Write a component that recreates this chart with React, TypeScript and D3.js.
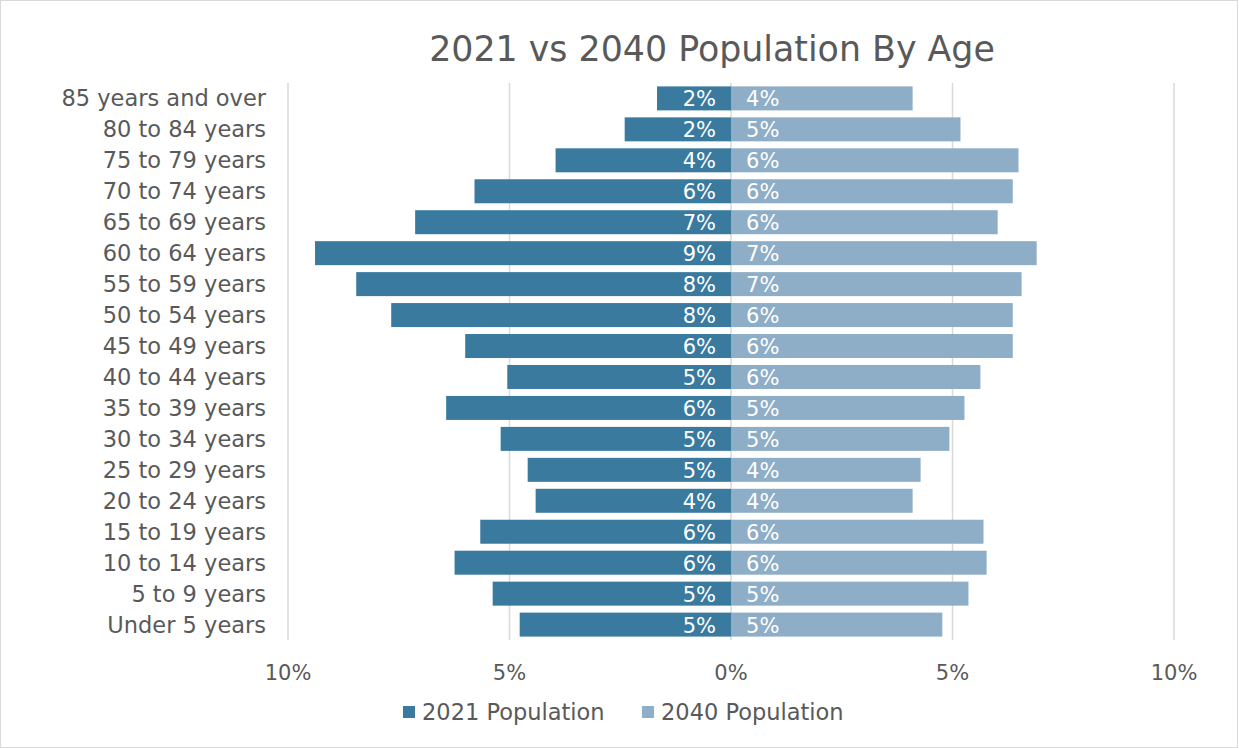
import React from "react";
import * as d3 from "d3";

const categories = [
  "85 years and over", "80 to 84 years", "75 to 79 years", "70 to 74 years",
  "65 to 69 years", "60 to 64 years", "55 to 59 years", "50 to 54 years",
  "45 to 49 years", "40 to 44 years", "35 to 39 years", "30 to 34 years",
  "25 to 29 years", "20 to 24 years", "15 to 19 years", "10 to 14 years",
  "5 to 9 years", "Under 5 years",
];
const pop2021 = [1.67, 2.4, 3.96, 5.79, 7.13, 9.39, 8.46, 7.67, 6.0, 5.05, 6.43, 5.2, 4.59, 4.41, 5.66, 6.24, 5.38, 4.77];
const pop2040 = [4.1, 5.18, 6.49, 6.36, 6.02, 6.9, 6.56, 6.36, 6.36, 5.63, 5.27, 4.93, 4.28, 4.1, 5.7, 5.77, 5.36, 4.77];
const ticks = [-10, -5, 0, 5, 10];
const seriesNames = ["2021 Population", "2040 Population"];

const W = 1239, H = 748;
const FONT = "'DejaVu Sans', sans-serif";
const TEXT = "#595959";
const C1 = "#3A7A9E";
const C2 = "#8EADC7";
const GRID = "#D9D9D9";

export default function App() {
  const x = d3.scaleLinear().domain([-10, 10]).range([288, 1174]);
  const y = d3.scaleBand<string>().domain(categories).range([83, 640]).paddingInner(0.225).paddingOuter(0.11);
  const fs = 21;
  const fsWord = 22.5;
  return (
    <svg width={W} height={H} style={{ position: "absolute", left: 0, top: 0, background: "#fff" }} fontFamily={FONT}>
      <rect x={0.5} y={0.5} width={W - 2} height={H - 1} fill="#fff" stroke="#D9D9D9" />
      <text x={712} y={61} textAnchor="middle" fontSize={34.8} fill={TEXT}>2021 vs 2040 Population By Age</text>
      {ticks.map((t) => (
        <line key={"g" + t} x1={x(t)} x2={x(t)} y1={83} y2={640} stroke={GRID} strokeWidth={1.5} />
      ))}
      {categories.map((c, i) => (
        <g key={c}>
          <rect x={x(-pop2021[i])} y={y(c)} width={x(0) - x(-pop2021[i])} height={y.bandwidth()} fill={C1} />
          <rect x={x(0)} y={y(c)} width={x(pop2040[i]) - x(0)} height={y.bandwidth()} fill={C2} />
          <text x={716} y={y(c)! + y.bandwidth() / 2 + 8} textAnchor="end" fontSize={fs} fill="#fff">{d3.format(".0f")(pop2021[i])}%</text>
          <text x={746} y={y(c)! + y.bandwidth() / 2 + 8} textAnchor="start" fontSize={fs} fill="#fff">{d3.format(".0f")(pop2040[i])}%</text>
          <text x={266} y={y(c)! + y.bandwidth() / 2 + 8} textAnchor="end" fontSize={fsWord} fill={TEXT}>{c}</text>
        </g>
      ))}
      {ticks.map((t) => (
        <text key={"t" + t} x={x(t)} y={680} textAnchor="middle" fontSize={fs} fill={TEXT}>{Math.abs(t)}%</text>
      ))}
      <rect x={403} y={706} width={12} height={12} fill={C1} />
      <text x={422} y={720} fontSize={fsWord} fill={TEXT}>{seriesNames[0]}</text>
      <rect x={642} y={706} width={12} height={12} fill={C2} />
      <text x={661} y={720} fontSize={fsWord} fill={TEXT}>{seriesNames[1]}</text>
    </svg>
  );
}
